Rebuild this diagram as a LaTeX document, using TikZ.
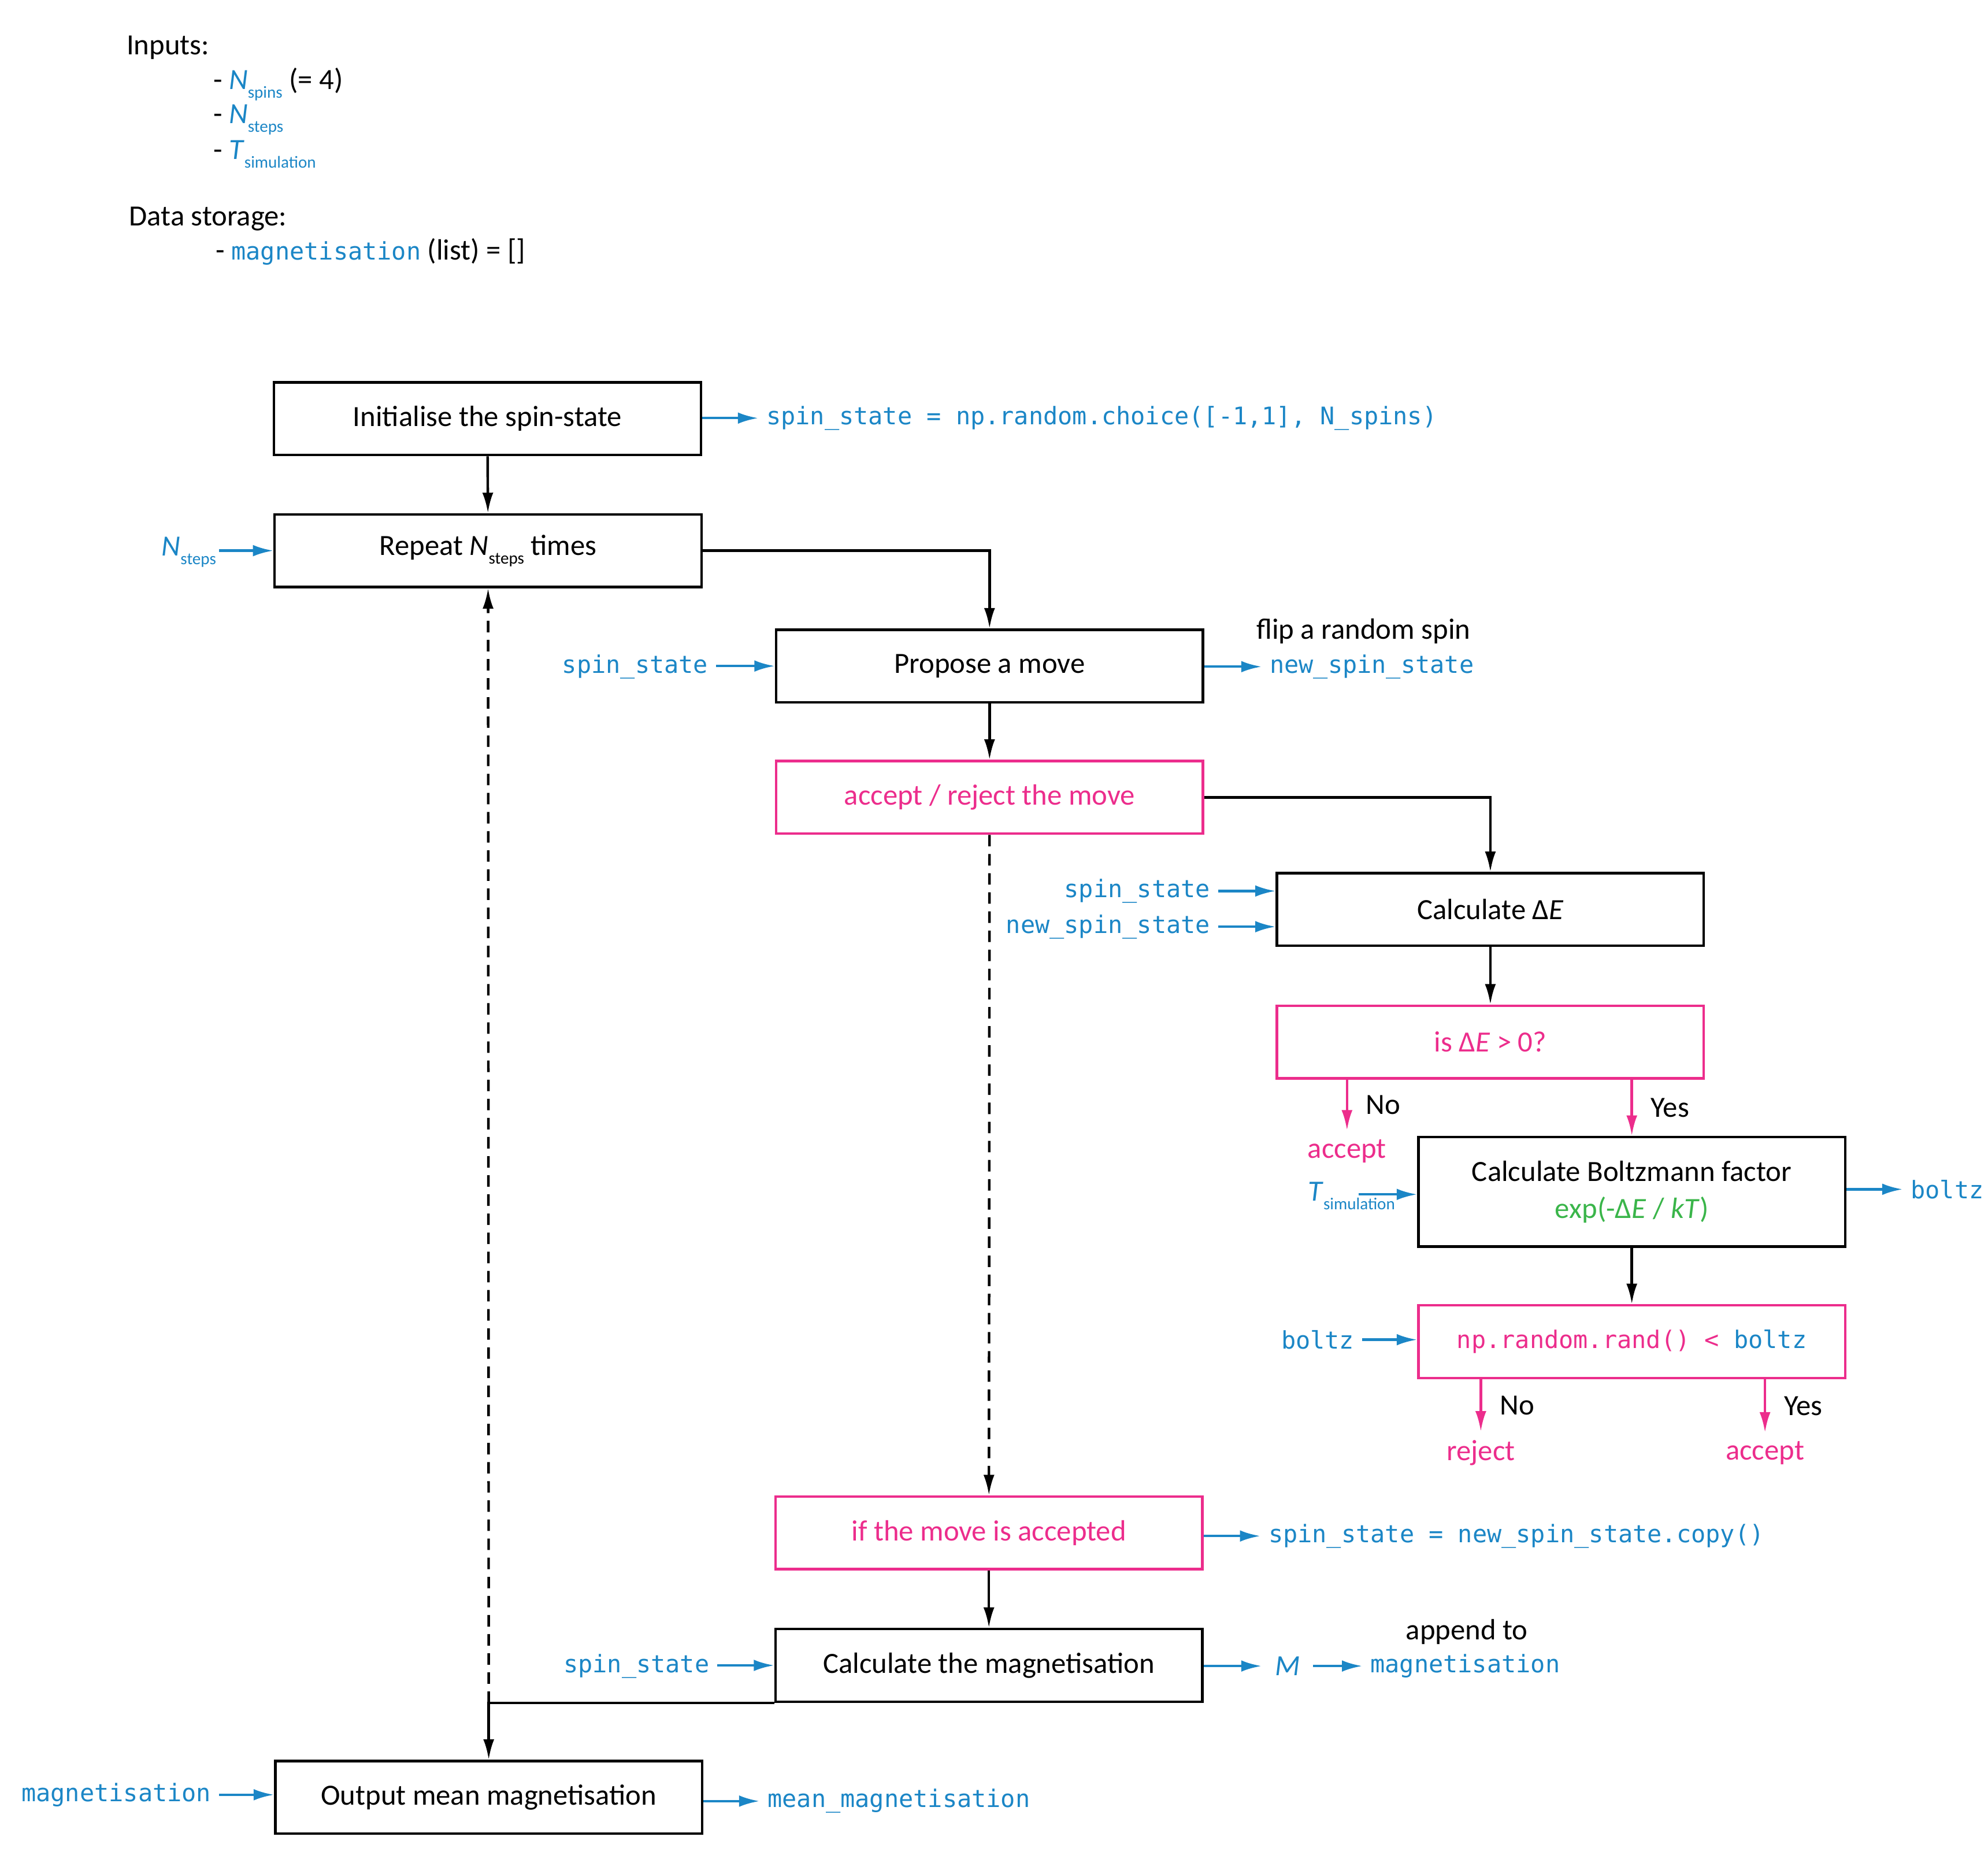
\documentclass[tikz,border=0pt]{standalone}
\usepackage{fontspec}
\setmainfont{Carlito}
\setmonofont{DejaVu Sans Mono}
\usetikzlibrary{arrows.meta,positioning}

\definecolor{codeblue}{HTML}{1B86C6}
\definecolor{hotpink}{HTML}{EC2D8C}
\definecolor{okgreen}{HTML}{3AB54A}
\newcommand\lowsub[1]{\raisebox{-3.4pt}{\fontsize{6.6}{8}\selectfont #1}}
\newcommand\code[1]{{\ttfamily\fontsize{9.5}{11}\selectfont #1}}

\begin{document}
\begin{tikzpicture}[x=0.5pt, y=-0.5pt,
  font=\fontsize{11.5}{14.5}\selectfont,
  stepbox/.style={draw, line width=1pt, minimum width=167.5pt, minimum height=28.5pt, inner sep=0pt},
  testbox/.style={stepbox, draw=hotpink, text=hotpink},
  flow/.style={-{Latex[length=8pt,width=4.3pt]}, line width=1pt},
  choice/.style={flow, draw=hotpink},
  feed/.style={-{Latex[length=8pt,width=4.5pt]}, line width=1pt, draw=codeblue},
  var/.style={inner sep=3pt, text=codeblue, font=\ttfamily\fontsize{9.5}{11}\selectfont},
  note/.style={inner sep=0pt}]
\useasboundingbox (0,0) rectangle (1560,1467);

% inputs and storage
\node[note, anchor=base west] (inputs) at (99,43) {Inputs:};
\node[note, anchor=base west] (in1) at (167,70) {- \textcolor{codeblue}{\textit{N}\lowsub{spins}} (= 4)};
\node[note, anchor=base west] (in2) at (167,97) {- \textcolor{codeblue}{\textit{N}\lowsub{steps}}};
\node[note, anchor=base west] (in3) at (167,125) {- \textcolor{codeblue}{\textit{T}\lowsub{simulation}}};
\node[note, anchor=base west] (store) at (101,177) {Data storage:};
\node[note, anchor=base west] (store1) at (169,204) {- \textcolor{codeblue}{\code{magnetisation}} (list) = []};

% main steps
\node[stepbox] (init) at (382.5,328.5) {Initialise the spin-state};
\node[stepbox] (repeat) at (383,432) {Repeat \textit{N}\lowsub{steps} times};
\node[stepbox] (propose) at (776.5,522.5) {Propose a move};
\node[testbox] (decide) at (776.5,625.5) {accept / reject the move};
\node[stepbox] (dE) at (1169.5,713.5) {Calculate Δ\textit{E}};
\node[testbox] (ispos) at (1169.5,817.5) {is Δ\textit{E} > 0?};
\node[stepbox, minimum height=43pt, align=center] (boltzf) at (1280.5,935) {Calculate Boltzmann factor\\ \textcolor{okgreen}{exp(-Δ\textit{E} / \textit{kT})}};
\node[testbox] (rand) at (1280.5,1052.5) {\code{np.random.rand() < \textcolor{codeblue}{boltz}}};
\node[testbox] (ifacc) at (776,1202.5) {if the move is accepted};
\node[stepbox] (magcalc) at (776,1306.5) {Calculate the magnetisation};
\node[stepbox] (output) at (383.5,1410) {Output mean magnetisation};

% outcomes of the tests
\node[text=hotpink] (acc1) at (1057,903) {accept};
\node[text=hotpink] (rej) at (1162,1140) {reject};
\node[text=hotpink] (acc2) at (1385,1140) {accept};

\draw[flow] (init) -- (repeat);
\draw[flow] (repeat.east) -| (propose.north);
\draw[flow] (propose) -- (decide);
\draw[flow] (decide.east) -| (dE.north);
\draw[flow] (dE) -- (ispos);
\draw[flow] (boltzf) -- (rand);
\draw[flow, dash pattern=on 4.5pt off 3pt] (decide) -- (ifacc);
\draw[flow] (ifacc) -- (magcalc);
\coordinate (back) at (output.north |- magcalc.south);
\draw[flow] (magcalc.south west) -- (back) -- (output.north);
\draw[flow, dash pattern=on 4.5pt off 3pt] (back) -- (repeat.south);

\draw[choice] (acc1.north |- ispos.south) -- node[note, right=7pt]{No} (acc1.north);
\draw[choice] (boltzf.north |- ispos.south) -- node[note, right=7pt]{Yes} (boltzf.north);
\draw[choice] (rej.north |- rand.south) -- node[note, right=7pt]{No} (rej.north);
\draw[choice] (acc2.north |- rand.south) -- node[note, right=7pt]{Yes} (acc2.north);

% values going in
\node[anchor=east, inner sep=1pt, text=codeblue] (nsteps) at (172,433) {\textit{N}\lowsub{steps}};
\draw[feed] (nsteps.east |- repeat.west) -- (repeat.west);
\node[var, anchor=east] (ss1) at (562,523) {spin\_state};
\draw[feed] (ss1.east |- propose.west) -- (propose.west);
\node[var, anchor=east] (ss2) at (956,699) {spin\_state};
\draw[feed] (ss2.east) -- (ss2.east -| dE.west);
\node[var, anchor=east] (nss1) at (956,727) {new\_spin\_state};
\draw[feed] (nss1.east) -- (nss1.east -| dE.west);
\node[note, anchor=base west, text=codeblue] (tsim) at (1026,942) {\textit{T}\lowsub{simulation}};
\coordinate (tsimtip) at (1066,937);
\draw[feed] (tsimtip) -- (tsimtip -| boltzf.west);
\node[var, anchor=east] (bin) at (1069,1051) {boltz};
\draw[feed] (bin.east) -- (bin.east -| rand.west);
\node[var, anchor=east] (ss3) at (563,1307) {spin\_state};
\draw[feed] (ss3.east |- magcalc.west) -- (magcalc.west);
\node[var, anchor=east] (magin) at (172,1408) {magnetisation};
\draw[feed] (magin.east) -- (magin.east -| output.west);

% values coming out
\node[var, anchor=west] (initout) at (595,328) {spin\_state = np.random.choice([-1,1], N\_spins)};
\draw[feed] (init.east |- initout.west) -- (initout.west);
\node[var, anchor=west] (nss2) at (990,523) {new\_spin\_state};
\draw[feed] (propose.east |- nss2.west) -- (nss2.west);
\node[note] (flip) at (1070,495) {flip a random spin};
\node[var, anchor=west] (bout) at (1493,933) {boltz};
\draw[feed] (boltzf.east |- bout.west) -- (bout.west);
\node[var, anchor=west] (copy) at (989,1205) {spin\_state = new\_spin\_state.copy()};
\draw[feed] (ifacc.east |- copy.west) -- (copy.west);
\node[anchor=west, inner sep=5pt, text=codeblue] (M) at (990,1307) {\textit{M}};
\draw[feed] (magcalc.east |- M.west) -- (M.west);
\node[var, anchor=west] (magout) at (1069,1307) {magnetisation};
\draw[feed] (M.east) -- (magout.west);
\node[note] (append) at (1151,1280) {append to};
\node[var, anchor=west] (meanout) at (596,1413) {mean\_magnetisation};
\draw[feed] (output.east |- meanout.west) -- (meanout.west);
\end{tikzpicture}
\end{document}
